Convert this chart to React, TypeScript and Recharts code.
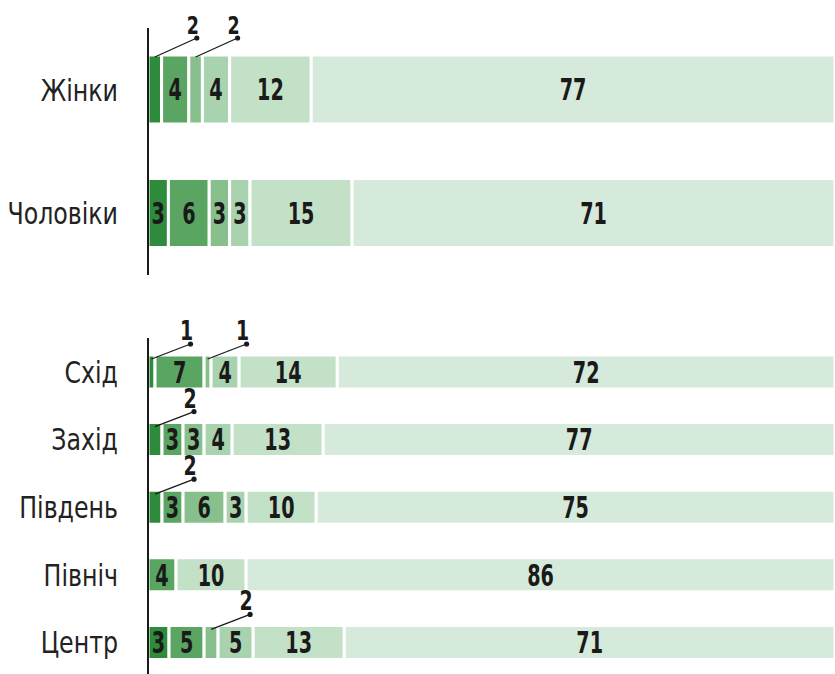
import React from 'react';
import { BarChart, Bar, XAxis, YAxis, LabelList } from 'recharts';

// answer shares, left (darkest) to right (lightest)
const genderRows = ['Жінки', 'Чоловіки'];
const womenValues = [2, 4, 2, 4, 12, 77];
const menValues = [3, 6, 3, 3, 15, 71];

const regionRows = ['Схід', 'Захід', 'Південь', 'Північ', 'Центр'];
const eastValues = [1, 7, 1, 4, 14, 72];
const westValues = [2, 3, 3, 4, 13, 77];
const southValues = [2, 3, 6, 3, 10, 75];
const northValues = [0, 4, 0, 0, 10, 86];
const centerValues = [3, 5, 2, 5, 13, 71];

const segmentKeys = ['s1', 's2', 's3', 's4', 's5', 's6'];
const segmentColors = ['#2e8b3c', '#5aa562', '#87c08d', '#a9d3ae', '#c3e1c7', '#d6eadb'];

const FONT = '"DejaVu Sans", sans-serif';
const INK = '#1a1a1a';

const buildRows = (names: string[], values: number[][]) =>
  names.map((name, i) => {
    const row: Record<string, any> = { name };
    segmentKeys.forEach((k, j) => {
      row[k] = values[i][j];
    });
    return row;
  });

const genderData = buildRows(genderRows, [womenValues, menValues]);
const regionData = buildRows(regionRows, [eastValues, westValues, southValues, northValues, centerValues]);

// no condensed font installed, so squeeze the text horizontally
const Narrow = ({
  x,
  y,
  squeeze,
  size,
  weight,
  anchor,
  fill,
  children,
}: {
  x: number;
  y: number;
  squeeze: number;
  size: number;
  weight: number;
  anchor: 'start' | 'middle' | 'end';
  fill: string;
  children: React.ReactNode;
}) => (
  <text
    transform={`translate(${x},${y}) scale(${squeeze},1)`}
    x={0}
    y={0}
    textAnchor={anchor}
    fontSize={size}
    fontWeight={weight}
    fontFamily={FONT}
    fill={fill}
  >
    {children}
  </text>
);

// small values get a leader line and a number above the bar
const makeLabel =
  (fontSize: number, calloutSize: number, dx: number, dyTop: number, dyStart: number) =>
  (props: any) => {
    const x = Number(props.x ?? props.viewBox?.x);
    const y = Number(props.y ?? props.viewBox?.y);
    const width = Number(props.width ?? props.viewBox?.width);
    const height = Number(props.height ?? props.viewBox?.height);
    const value = props.value;
    if (!value) return null;
    if (value <= 2) {
      const sx = x + width / 2;
      const sy = y + dyStart;
      const ex = sx + dx;
      const ey = y - dyTop;
      return (
        <g>
          <line x1={sx} y1={sy} x2={ex} y2={ey} stroke={INK} strokeWidth={1.3} />
          <circle cx={ex} cy={ey} r={2.6} fill={INK} />
          <Narrow x={ex - 4} y={ey - 4} squeeze={0.7} size={calloutSize} weight={700} anchor="middle" fill={INK}>
            {value}
          </Narrow>
        </g>
      );
    }
    return (
      <Narrow
        x={x + width / 2}
        y={y + height / 2 + fontSize * 0.36}
        squeeze={0.64}
        size={fontSize}
        weight={700}
        anchor="middle"
        fill={INK}
      >
        {value}
      </Narrow>
    );
  };

const genderLabel = makeLabel(30, 25, 42, 17, 2);
const regionLabel = makeLabel(30, 27, 39, 11, 4);

const CategoryTick = (props: any) => (
  <Narrow x={props.x} y={props.y + 11} squeeze={0.79} size={30} weight={400} anchor="end" fill="#222">
    {props.payload.value}
  </Narrow>
);

const App: React.FC = () => {
  return (
    <div
      style={{
        position: 'absolute',
        left: 0,
        top: 0,
        width: 835,
        height: 674,
        overflow: 'hidden',
        background: '#fff',
        fontFamily: FONT,
      }}
    >
      {/* gender */}
      <div style={{ position: 'absolute', left: 0, top: 0 }}>
        <BarChart
          width={835}
          height={300}
          data={genderData}
          layout="vertical"
          margin={{ top: 28, right: 0, bottom: 25, left: 0 }}
          barSize={69}
        >
          <XAxis type="number" domain={[0, 101]} allowDataOverflow hide />
          <YAxis
            type="category"
            dataKey="name"
            width={148}
            tickLine={false}
            tickSize={0}
            tickMargin={30}
            axisLine={{ stroke: INK, strokeWidth: 2 }}
            tick={<CategoryTick />}
          />
          {segmentKeys.map((key, i) => (
            <Bar
              key={key}
              dataKey={key}
              stackId="a"
              fill={segmentColors[i]}
              stroke="#fff"
              strokeWidth={3}
              isAnimationActive={false}
            >
              <LabelList dataKey={key} content={genderLabel} />
            </Bar>
          ))}
        </BarChart>
      </div>

      {/* regions */}
      <div style={{ position: 'absolute', left: 0, top: 300 }}>
        <BarChart
          width={835}
          height={380}
          data={regionData}
          layout="vertical"
          margin={{ top: 38, right: 0, bottom: 4, left: 0 }}
          barSize={34}
        >
          <XAxis type="number" domain={[0, 98]} allowDataOverflow hide />
          <YAxis
            type="category"
            dataKey="name"
            width={148}
            tickLine={false}
            tickSize={0}
            tickMargin={30}
            axisLine={{ stroke: INK, strokeWidth: 2 }}
            tick={<CategoryTick />}
          />
          {segmentKeys.map((key, i) => (
            <Bar
              key={key}
              dataKey={key}
              stackId="a"
              fill={segmentColors[i]}
              stroke="#fff"
              strokeWidth={3}
              isAnimationActive={false}
            >
              <LabelList dataKey={key} content={regionLabel} />
            </Bar>
          ))}
        </BarChart>
      </div>
    </div>
  );
};

export default App;
